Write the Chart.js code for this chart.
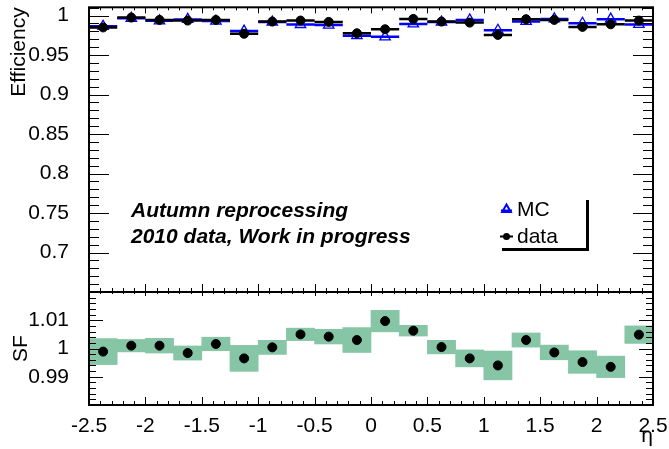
<!DOCTYPE html>
<html>
<head>
<meta charset="utf-8">
<script src="https://cdn.jsdelivr.net/npm/chart.js@4.4.0/dist/chart.umd.min.js"></script>
<style>
    html, body { margin: 0; padding: 0; background: #fff; }
    #wrap { position: relative; width: 669px; height: 449px; overflow: hidden; }
    #wrap canvas { position: absolute; left: 0; }
    #effCanvas { top: 0; }
    #sfCanvas { top: 280px; }
</style>
</head>
<body>
<div id="wrap">
    <canvas id="effCanvas" width="669" height="300"></canvas>
    <canvas id="sfCanvas" width="669" height="169"></canvas>
</div>
<script>
// eta bin centres (bin width 0.25)
const etaBins = [-2.375, -2.125, -1.875, -1.625, -1.375, -1.125, -0.875, -0.625, -0.375, -0.125,
                 0.125, 0.375, 0.625, 0.875, 1.125, 1.375, 1.625, 1.875, 2.125, 2.375];
const binHalfWidth = 0.125;

// efficiency, data and MC
const effData = [0.9850, 0.9975, 0.9945, 0.9937, 0.9945, 0.9770, 0.9924, 0.9937, 0.9920, 0.9776,
                 0.9827, 0.9958, 0.9924, 0.9911, 0.9755, 0.9954, 0.9945, 0.9857, 0.9890, 0.9937];
const effMC   = [0.9865, 0.9965, 0.9934, 0.9952, 0.9930, 0.9804, 0.9919, 0.9887, 0.9880, 0.9746,
                 0.9731, 0.9894, 0.9919, 0.9945, 0.9814, 0.9926, 0.9958, 0.9903, 0.9955, 0.9888];

// scale factor data/MC and its uncertainty
const sfValues = [0.9989, 1.0010, 1.0010, 0.9984, 1.0016, 0.9965, 1.0004, 1.0050, 1.0042, 1.0030,
                  1.0097, 1.0063, 1.0005, 0.9965, 0.9940, 1.0030, 0.9986, 0.9952, 0.9935, 1.0049];
const sfErrors = [0.0046, 0.0022, 0.0026, 0.0025, 0.0024, 0.0046, 0.0025, 0.0022, 0.0026, 0.0044,
                  0.0038, 0.0019, 0.0024, 0.0030, 0.0051, 0.0025, 0.0026, 0.0040, 0.0038, 0.0031];

// tick labels
const etaTicks = [-2.5, -2, -1.5, -1, -0.5, 0, 0.5, 1, 1.5, 2, 2.5];
const effTicks = [0.7, 0.75, 0.8, 0.85, 0.9, 0.95, 1];
const sfTicks  = [0.99, 1, 1.01];

const FONT = '"Liberation Sans", Arial, sans-serif';
const GREEN = 'rgb(134,197,165)';

const points = vals => etaBins.map((c, i) => ({ x: c, y: vals[i] }));
// horizontal bin-width bars, broken by null points
const binBars = vals => etaBins.flatMap((c, i) => [
    { x: c - binHalfWidth, y: vals[i] },
    { x: c + binHalfWidth, y: vals[i] },
    { x: c + binHalfWidth, y: null }
]);
const plainLabel = v => String(v);

// ROOT-like frame with inner ticks
const rootFrame = {
    id: 'rootFrame',
    afterDatasetsDraw(chart, args, o) {
        const { ctx, chartArea: a, scales: { x, y } } = chart;
        const isMajor = (v, step) => Math.abs(v / step - Math.round(v / step)) < 1e-6;
        ctx.save();
        ctx.strokeStyle = '#000';
        ctx.lineWidth = 1;
        ctx.beginPath();
        let i0 = Math.ceil(x.min / o.xMinor - 1e-6), i1 = Math.floor(x.max / o.xMinor + 1e-6);
        for (let i = i0; i <= i1; i++) {
            const v = i * o.xMinor;
            const px = Math.round(x.getPixelForValue(v)) + 0.5;
            const m = isMajor(v, o.xMajor) ? 0 : 1;
            ctx.moveTo(px, a.top); ctx.lineTo(px, a.top + o.xTop[m]);
            ctx.moveTo(px, a.bottom); ctx.lineTo(px, a.bottom - o.xBottom[m]);
        }
        i0 = Math.ceil(y.min / o.yMinor - 1e-6); i1 = Math.floor(y.max / o.yMinor + 1e-6);
        for (let i = i0; i <= i1; i++) {
            const v = i * o.yMinor;
            const py = Math.round(y.getPixelForValue(v)) + 0.5;
            const m = isMajor(v, o.yMajor) ? 0 : 1;
            ctx.moveTo(a.left, py); ctx.lineTo(a.left + o.yLen[m], py);
            ctx.moveTo(a.right, py); ctx.lineTo(a.right - o.yLen[m], py);
        }
        ctx.stroke();
        ctx.lineWidth = 2;
        ctx.strokeRect(a.left, a.top, a.right - a.left, a.bottom - a.top);
        ctx.restore();
    }
};

// text and legend in the efficiency pad
const effNotes = {
    id: 'effNotes',
    afterDraw(chart) {
        const ctx = chart.ctx;
        ctx.save();
        ctx.fillStyle = '#000';
        ctx.textBaseline = 'alphabetic';
        ctx.font = 'italic bold 21px ' + FONT;
        ctx.fillText('Autumn reprocessing', 131, 217);
        ctx.fillText('2010 data, Work in progress', 131, 243);

        ctx.font = '21px ' + FONT;
        ctx.fillText('MC', 517, 216);
        ctx.fillText('data', 517, 243);

        // legend markers
        ctx.lineWidth = 2;
        ctx.strokeStyle = '#0000ff';
        ctx.beginPath(); ctx.moveTo(501, 210.5); ctx.lineTo(512, 210.5); ctx.stroke();
        ctx.fillStyle = 'rgba(0,0,0,0)';
        Chart.helpers.drawPoint(ctx, { pointStyle: 'triangle', radius: 5, borderWidth: 1.2 }, 506.5, 209.5);
        ctx.strokeStyle = '#000';
        ctx.fillStyle = '#000';
        ctx.beginPath(); ctx.moveTo(500, 236.5); ctx.lineTo(513, 236.5); ctx.stroke();
        ctx.beginPath(); ctx.arc(506.5, 236.5, 3.5, 0, Math.PI * 2); ctx.fill();

        // legend shadow
        ctx.lineWidth = 3;
        ctx.beginPath();
        ctx.moveTo(587.5, 200); ctx.lineTo(587.5, 249.5);
        ctx.moveTo(502, 249.5); ctx.lineTo(589, 249.5);
        ctx.stroke();
        ctx.restore();
    }
};

const tickFont = { family: FONT, size: 21 };

new Chart(document.getElementById('effCanvas'), {
    type: 'line',
    data: {
        datasets: [
            { label: 'data', data: points(effData), showLine: false, pointStyle: 'circle', pointRadius: 4.5,
              pointBackgroundColor: '#000', pointBorderColor: '#000', order: 0 },
            { label: 'data bins', data: binBars(effData), borderColor: '#000', borderWidth: 2.5,
              pointRadius: 0, spanGaps: false, order: 1 },
            { label: 'MC', data: points(effMC), showLine: false, pointStyle: 'triangle', pointRadius: 6,
              pointBorderWidth: 1.3, pointBorderColor: '#0000ff', pointBackgroundColor: 'rgba(0,0,0,0)', order: 2 },
            { label: 'MC bins', data: binBars(effMC), borderColor: '#0000ff', borderWidth: 2.5,
              pointRadius: 0, spanGaps: false, order: 3 }
        ]
    },
    options: {
        responsive: false,
        animation: false,
        events: [],
        layout: { padding: { left: 0, right: 16, top: 7, bottom: 8 } },
        plugins: {
            legend: { display: false },
            tooltip: { enabled: false },
            rootFrame: { xMajor: 0.5, xMinor: 0.1, xTop: [6, 3], xBottom: [8, 4],
                         yMajor: 0.05, yMinor: 0.01, yLen: [20, 10] }
        },
        scales: {
            x: { type: 'linear', min: -2.5, max: 2.5, display: false },
            y: {
                min: 0.65, max: 1.0105,
                afterBuildTicks: s => { s.ticks = effTicks.map(v => ({ value: v })); },
                afterFit: s => { s.width = 89; s.paddingTop = 0; s.paddingBottom = 0; },
                grid: { display: false },
                border: { display: false },
                ticks: { font: tickFont, color: '#000', padding: 12, callback: plainLabel },
                title: { display: true, text: 'Efficiency', align: 'end', font: tickFont, color: '#000',
                         padding: { top: 7, bottom: 0 } }
            }
        }
    },
    plugins: [rootFrame, effNotes]
});

new Chart(document.getElementById('sfCanvas'), {
    type: 'bar',
    data: {
        datasets: [
            { type: 'scatter', label: 'SF', data: points(sfValues), pointRadius: 4.5,
              pointBackgroundColor: '#000', pointBorderColor: '#000', order: 0 },
            { type: 'bar', label: 'SF error',
              data: etaBins.map((c, i) => ({ x: c, y: [sfValues[i] - sfErrors[i], sfValues[i] + sfErrors[i]] })),
              backgroundColor: GREEN, borderWidth: 0, barPercentage: 1, categoryPercentage: 1, order: 1 }
        ]
    },
    options: {
        responsive: false,
        animation: false,
        events: [],
        layout: { padding: { left: 0, right: 16, top: 12, bottom: 0 } },
        plugins: {
            legend: { display: false },
            tooltip: { enabled: false },
            rootFrame: { xMajor: 0.5, xMinor: 0.1, xTop: [4, 2], xBottom: [8, 4],
                         yMajor: 0.01, yMinor: 0.002, yLen: [14, 7] }
        },
        scales: {
            x: {
                type: 'linear', min: -2.5, max: 2.5, offset: false,
                afterBuildTicks: s => { s.ticks = etaTicks.map(v => ({ value: v })); },
                afterFit: s => { s.height = 44; s.paddingLeft = 0; s.paddingRight = 0; },
                grid: { display: false },
                border: { display: false },
                ticks: { font: tickFont, color: '#000', padding: 1, maxRotation: 0, autoSkip: false,
                         callback: plainLabel },
                title: { display: true, text: 'η', align: 'end', font: tickFont, color: '#000', padding: 0 }
            },
            y: {
                min: 0.98, max: 1.02,
                afterBuildTicks: s => { s.ticks = sfTicks.map(v => ({ value: v })); },
                afterFit: s => { s.width = 89; s.paddingTop = 0; s.paddingBottom = 0; },
                grid: { display: false },
                border: { display: false },
                ticks: { font: tickFont, color: '#000', padding: 12, callback: plainLabel },
                title: { display: true, text: 'SF', font: tickFont, color: '#000',
                         padding: { top: 9, bottom: 0 } }
            }
        }
    },
    plugins: [rootFrame]
});
</script>
</body>
</html>
